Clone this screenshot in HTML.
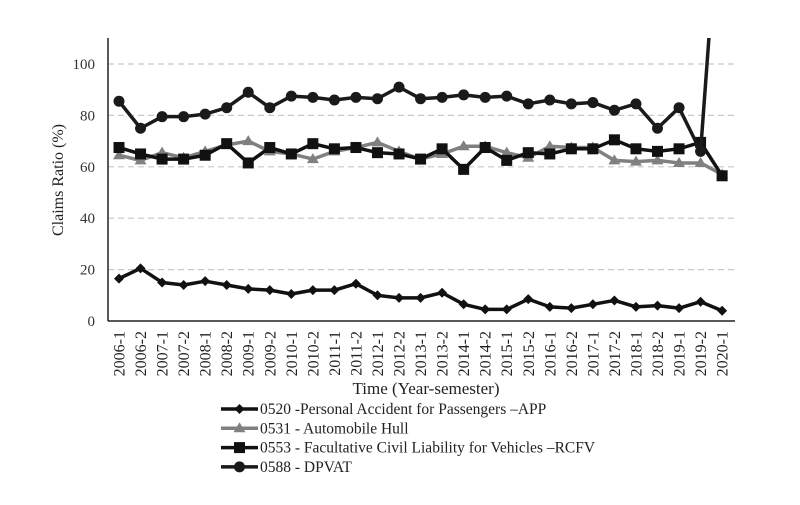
<!DOCTYPE html>
<html><head><meta charset="utf-8"><style>
body{margin:0;background:#fff;}
svg{display:block;font-family:"Liberation Serif",serif;}
</style></head><body>
<svg id="chart" width="800" height="505" viewBox="0 0 800 505">
<defs><clipPath id="plotclip"><rect x="100" y="38" width="650" height="290"/></clipPath></defs>
<g id="grid"></g><g id="axes"></g><g id="series" clip-path="url(#plotclip)"></g><g id="xlabels"></g><g id="legend"></g>
</svg>
<script>
const categories=["2006-1","2006-2","2007-1","2007-2","2008-1","2008-2","2009-1","2009-2","2010-1","2010-2","2011-1","2011-2","2012-1","2012-2","2013-1","2013-2","2014-1","2014-2","2015-1","2015-2","2016-1","2016-2","2017-1","2017-2","2018-1","2018-2","2019-1","2019-2","2020-1"];
const appValues=[16.5,20.5,15,14,15.5,14,12.5,12,10.5,12,12,14.5,10,9,9,11,6.5,4.5,4.5,8.5,5.5,5,6.5,8,5.5,6,5,7.5,4];
const hullValues=[64.5,62.5,65.5,63.5,66,68.5,70,66,65,63,66,67.5,69.5,66,63,65,68,68,65.5,63.5,68,67.5,67.5,62.5,62,62.5,61.5,61.5,57];
const rcfvValues=[67.5,65,63,63,64.5,69,61.5,67.5,65,69,67,67.5,65.5,65,63,67,59,67.5,62.5,65.5,65,67,67,70.5,67,66,67,69.5,56.5];
const dpvatValues=[85.5,75,79.5,79.5,80.5,83,89,83,87.5,87,86,87,86.5,91,86.5,87,88,87,87.5,84.5,86,84.5,85,82,84.5,75,83,66,180];
const yTicks=[0,20,40,60,80,100];
const legendLabels=["0520 -Personal Accident for Passengers \u2013APP","0531 - Automobile Hull","0553 - Facultative Civil Liability for Vehicles \u2013RCFV","0588 - DPVAT"];

const NS="http://www.w3.org/2000/svg";
const x0=119,dx=21.54,y0=321,py=2.57;
const xs=i=>x0+i*dx, ys=v=>y0-v*py;
function mk(tag,attrs,parent){const e=document.createElementNS(NS,tag);for(const k in attrs)e.setAttribute(k,attrs[k]);parent.appendChild(e);return e;}
const grid=document.getElementById('grid'),axes=document.getElementById('axes'),ser=document.getElementById('series'),xl=document.getElementById('xlabels'),lg=document.getElementById('legend');

yTicks.forEach(t=>{
  if(t>0){const g=mk('line',{x1:108,x2:735,y1:ys(t),y2:ys(t),stroke:'#c8c8c8','stroke-width':1.2,'stroke-dasharray':'6,4'},grid);
  
  }
  const tx=mk('text',{x:95,y:ys(t)+5,'text-anchor':'end','font-size':15,fill:'#333'},axes);tx.textContent=t;
  
  
});
const ya=mk('line',{x1:108,x2:108,y1:38,y2:321,stroke:'#222','stroke-width':1.5},axes);


const xa=mk('line',{x1:108,x2:735,y1:321,y2:321,stroke:'#222','stroke-width':1.5},axes);


const yt=mk('text',{x:0,y:0,transform:'translate(63,180) rotate(-90)','text-anchor':'middle','font-size':16,fill:'#222'},axes);yt.textContent='Claims Ratio (%)';


const xt=mk('text',{x:426,y:394,'text-anchor':'middle','font-size':17,fill:'#222'},axes);xt.textContent='Time (Year-semester)';



categories.forEach((c,i)=>{
  const t=mk('text',{x:0,y:0,transform:`translate(${xs(i)+5.5},331) rotate(-90)`,'text-anchor':'end','font-size':16,fill:'#222'},xl);t.textContent=c;
  
  
});

function marker(type,x,y,color,parent){
  let m;
  if(type==='diamond')m=mk('polygon',{points:`${x},${y-5} ${x+5},${y} ${x},${y+5} ${x-5},${y}`,fill:color},parent);
  else if(type==='triangle')m=mk('polygon',{points:`${x},${y-6} ${x+6},${y+4} ${x-6},${y+4}`,fill:color},parent);
  else if(type==='square')m=mk('rect',{x:x-5.5,y:y-5.5,width:11,height:11,fill:color},parent);
  else m=mk('circle',{cx:x,cy:y,r:5.5,fill:color},parent);
  return m;
}
const seriesDefs=[
 {name:'app',vals:appValues,color:'#111',m:'diamond'},
 {name:'hull',vals:hullValues,color:'#808080',m:'triangle'},
 {name:'rcfv',vals:rcfvValues,color:'#111',m:'square'},
 {name:'dpvat',vals:dpvatValues,color:'#1a1a1a',m:'circle'}];
seriesDefs.forEach(s=>{
  const g=mk('g',{},ser);
  
  
  const pl=mk('polyline',{points:s.vals.map((v,i)=>xs(i)+','+ys(v)).join(' '),fill:'none',stroke:s.color,'stroke-width':3.5,'stroke-linejoin':'round'},g);
  
  
  s.vals.forEach((v,i)=>{const m=marker(s.m,xs(i),ys(v),s.color,g);
    
    });
});

legendLabels.forEach((lab,i)=>{
  const y=409+i*19.3,s=seriesDefs[i];
  const g=mk('g',{},lg);
  
  
  mk('line',{x1:221,x2:258,y1:y,y2:y,stroke:s.color,'stroke-width':3.5},g);
  marker(s.m,239.5,y,s.color,g);
  const t=mk('text',{x:260,y:y+5,'font-size':15.5,fill:'#222'},g);t.textContent=lab;
});
</script>
</body></html>
